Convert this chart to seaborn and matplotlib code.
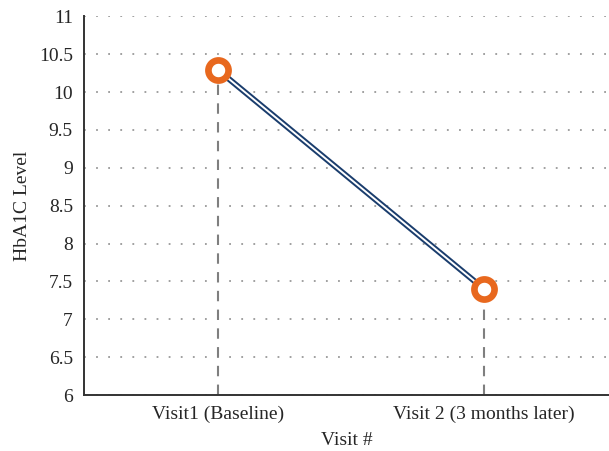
import pandas as pd
import matplotlib.pyplot as plt
import seaborn as sns

visits = ['Visit1 (Baseline)', 'Visit 2 (3 months later)']
hba1c = [10.29, 7.40]
yticks = [6, 6.5, 7, 7.5, 8, 8.5, 9, 9.5, 10, 10.5, 11]

df = pd.DataFrame({'pos': range(len(visits)), 'visit': visits, 'hba1c': hba1c})

sns.set_style('white')
plt.rcParams['font.family'] = ['Liberation Serif', 'DejaVu Serif']

fig = plt.figure(figsize=(6.09, 4.51), dpi=100)
ax = fig.add_axes([0.138, 0.124, 0.862, 0.84])

# drop lines
ax.vlines(df['pos'], 6, df['hba1c'], colors='#7f7f7f', linestyles=(0, (5, 4)), lw=1.5, zorder=1)

# double line: dark outline + white core
sns.lineplot(data=df, x='pos', y='hba1c', color='#1a3d6d', lw=4.2, ax=ax, zorder=2)
sns.lineplot(data=df, x='pos', y='hba1c', color='white', lw=1.4, ax=ax, zorder=3)
sns.scatterplot(data=df, x='pos', y='hba1c', s=210, color='white', edgecolor='#e8681e',
                linewidth=4.8, ax=ax, zorder=4)

ax.set_xlim(-0.504, 1.47)
ax.set_ylim(6, 11)
ax.set_yticks(yticks)
ax.set_yticklabels([f'{t:g}' for t in yticks])
ax.set_xticks(df['pos'])
ax.set_xticklabels(visits)
ax.tick_params(labelsize=14, length=0, pad=8)
ax.yaxis.grid(True, linestyle=(0, (1, 5.7)), color='#999999', lw=1.3)
ax.set_axisbelow(True)
sns.despine(ax=ax)
for s in ['left', 'bottom']:
    ax.spines[s].set_color('#333333')
    ax.spines[s].set_linewidth(1.4)

ax.set_xlabel('Visit #', fontsize=14, labelpad=6)
ax.set_ylabel('HbA1C Level', fontsize=14, labelpad=6)

fig.savefig('out.png', dpi=100)
